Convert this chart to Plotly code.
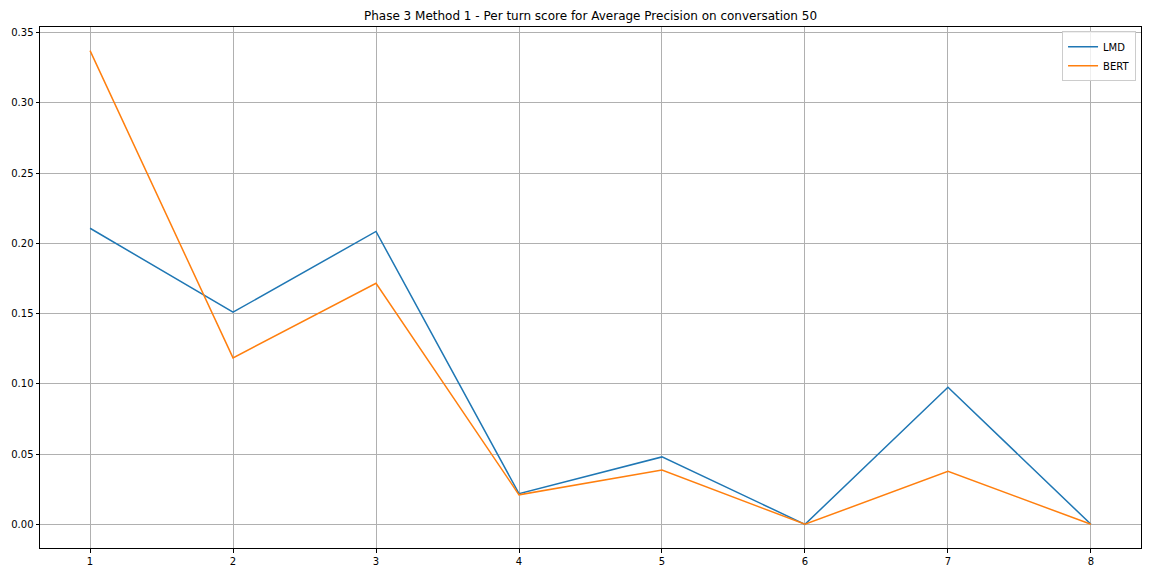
import plotly.graph_objects as go

turns = [1, 2, 3, 4, 5, 6, 7, 8]
lmd = [0.2108, 0.1510, 0.2085, 0.0218, 0.0480, 0.0, 0.0976, 0.0]
bert = [0.3372, 0.1185, 0.1716, 0.0210, 0.0387, 0.0, 0.0378, 0.0]
y_ticks = [0.00, 0.05, 0.10, 0.15, 0.20, 0.25, 0.30, 0.35]

fig = go.Figure()
fig.add_trace(go.Scatter(x=turns, y=lmd, mode="lines", name="LMD",
                         line=dict(color="#1f77b4", width=1.5)))
fig.add_trace(go.Scatter(x=turns, y=bert, mode="lines", name="BERT",
                         line=dict(color="#ff7f0e", width=1.5)))

axis_common = dict(showline=True, linecolor="black", linewidth=1, mirror=True,
                   showgrid=True, gridcolor="#b0b0b0", gridwidth=1,
                   ticks="outside", ticklen=3.5, tickcolor="black",
                   tickfont=dict(family="DejaVu Sans", size=10, color="black"),
                   zeroline=False, automargin=False)

# page body has an 8px default margin; figure sized to fit the window
W, H = 1136, 560
fig.update_layout(
    width=W, height=H,
    paper_bgcolor="white", plot_bgcolor="white",
    margin=dict(l=32, r=3, t=19, b=20, autoexpand=False),
    title=dict(text="Phase 3 Method 1 - Per turn score for Average Precision on conversation 50",
               x=0.5, xref="paper", xanchor="center", y=1 - 8/H, yanchor="middle",
               automargin=False,
               font=dict(family="DejaVu Sans", size=12, color="black")),
    xaxis=dict(range=[0.65, 8.35], tickvals=turns, ticktext=[str(t) for t in turns], **axis_common),
    yaxis=dict(range=[-0.01686, 0.35406], tickvals=y_ticks,
               ticktext=[f"{v:.2f}" for v in y_ticks], **axis_common),
    legend=dict(x=0.9955, y=0.992, xanchor="right", yanchor="top",
                bgcolor="rgba(255,255,255,0.8)", bordercolor="#cccccc", borderwidth=1,
                font=dict(family="DejaVu Sans", size=10, color="black"),
                itemwidth=30, tracegroupgap=0),
    showlegend=True,
)

fig.write_html("out.html")
